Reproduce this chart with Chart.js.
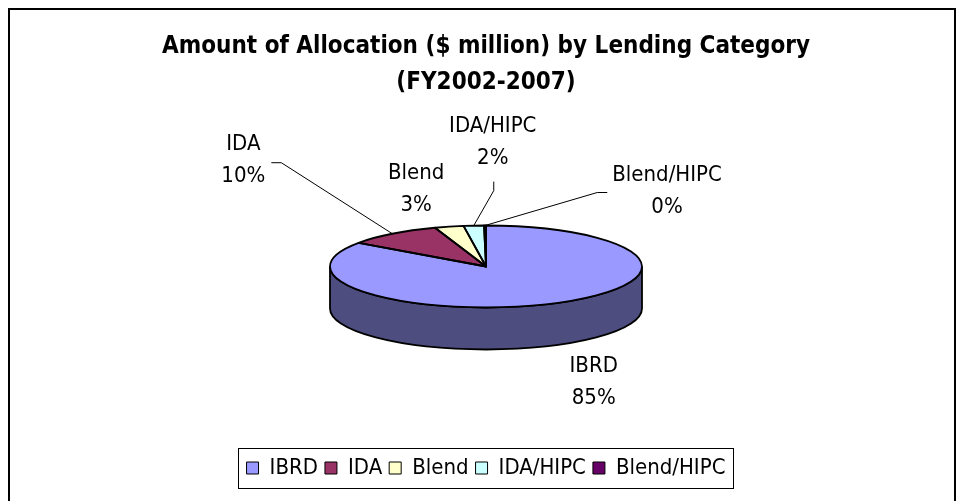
<!DOCTYPE html>
<html>
<head>
<meta charset="utf-8">
<script src="https://cdn.jsdelivr.net/npm/chart.js@4.4.1/dist/chart.umd.min.js"></script>
<style>
html, body { margin: 0; padding: 0; background: #fff; }
</style>
</head>
<body>
<canvas id="allocation_pie" width="960" height="501"></canvas>
<script>
const categories = ["IBRD", "IDA", "Blend", "IDA/HIPC", "Blend/HIPC"]
const allocation = [84.8, 9.9, 3.0, 2.1, 0.2]
const titleLines = ["Amount of Allocation ($ million) by Lending Category", "(FY2002-2007)"]

const topColors = ["#9999ff", "#993366", "#ffffcc", "#ccffff", "#660066"]
const sideColors = ["#4d4d80", "#4d1a33", "#808066", "#668080", "#330033"]
// label centre, offset from the rim point of its slice
const labelNudge = [[36, 79], [-149, -73], [-33, -37], [19, -83], [182, -34]]
const leaderSide = [null, "right", null, "below", "left"]

const narrow = "'DejaVu Sans Condensed', 'Arial Narrow', sans-serif"
const tilt = 41 / 156
const depth = 42

function geom(chart) {
    const a = chart.getDatasetMeta(0).data[0]
    const rx = a.outerRadius
    return { x0: a.x, y0: a.y, cx: a.x, cy: a.y - depth / 2, rx: rx, ry: rx * tilt }
}

// flatten the library's pie into an ellipse and give it a side wall
const pie3d = {
    id: "pie3d",
    beforeDatasetsDraw(chart) {
        const ctx = chart.ctx
        const g = geom(chart)
        const arcs = chart.getDatasetMeta(0).data
        ctx.save()
        arcs.forEach((a, i) => {
            const s = Math.max(a.startAngle, 0), e = Math.min(a.endAngle, Math.PI)
            if (e <= s) return
            ctx.beginPath()
            ctx.ellipse(g.cx, g.cy, g.rx, g.ry, 0, s, e)
            ctx.ellipse(g.cx, g.cy + depth, g.rx, g.ry, 0, e, s, true)
            ctx.closePath()
            ctx.fillStyle = sideColors[i]
            ctx.fill()
            ctx.lineWidth = 1.8
            ctx.strokeStyle = "#000"
            ctx.stroke()
        })
        ctx.translate(g.cx, g.cy)
        ctx.scale(1, tilt)
        ctx.translate(-g.x0, -g.y0)
    },
    afterDatasetsDraw(chart) {
        const ctx = chart.ctx
        ctx.restore()
        const g = geom(chart)
        const arcs = chart.getDatasetMeta(0).data
        const total = allocation.reduce((s, v) => s + v, 0)
        // slice outlines
        ctx.save()
        ctx.lineWidth = 1.8
        ctx.strokeStyle = "#000"
        ctx.lineJoin = "round"
        arcs.forEach(a => {
            ctx.beginPath()
            ctx.moveTo(g.cx, g.cy)
            ctx.ellipse(g.cx, g.cy, g.rx, g.ry, 0, a.startAngle, a.endAngle)
            ctx.closePath()
            ctx.stroke()
        })
        ctx.restore()
        // data labels
        ctx.save()
        ctx.font = "22px " + narrow
        ctx.fillStyle = "#000"
        ctx.strokeStyle = "#000"
        ctx.lineWidth = 1
        ctx.textAlign = "center"
        ctx.textBaseline = "middle"
        arcs.forEach((a, i) => {
            const m = (a.startAngle + a.endAngle) / 2
            const rimX = g.cx + g.rx * Math.cos(m)
            const rimY = g.cy + g.ry * Math.sin(m)
            const lx = rimX + labelNudge[i][0]
            const ly = rimY + labelNudge[i][1]
            const lines = [categories[i], Math.round(allocation[i] / total * 100) + "%"]
            ctx.fillText(lines[0], lx, ly - 16)
            ctx.fillText(lines[1], lx, ly + 16)
            const w = Math.max(...lines.map(t => ctx.measureText(t).width))
            let p = null
            if (leaderSide[i] === "right") p = [[lx + w / 2 + 6, ly + 2], [lx + w / 2 + 16, ly + 2]]
            if (leaderSide[i] === "left") p = [[lx - w / 2 - 5, ly + 1], [lx - w / 2 - 15, ly + 1]]
            if (leaderSide[i] === "below") p = [[lx + 1, ly + 39], [lx + 1, ly + 48]]
            if (p) {
                ctx.beginPath()
                ctx.moveTo(p[0][0], p[0][1])
                ctx.lineTo(p[1][0], p[1][1])
                ctx.lineTo(rimX, rimY)
                ctx.stroke()
            }
        })
        ctx.restore()
    }
}

// outer frame and box round the legend
const frames = {
    id: "frames",
    beforeDraw(chart) {
        const ctx = chart.ctx
        ctx.save()
        ctx.fillStyle = "#fff"
        ctx.fillRect(0, 0, chart.width, chart.height)
        ctx.strokeStyle = "#000"
        ctx.lineWidth = 2
        ctx.strokeRect(9, 9, 946, 520)
        ctx.restore()
    },
    afterDraw(chart) {
        const boxes = chart.legend.legendHitBoxes
        if (!boxes || !boxes.length) return
        const left = Math.min(...boxes.map(b => b.left)) - 9
        const right = Math.max(...boxes.map(b => b.left + b.width)) + 7
        const top = Math.min(...boxes.map(b => b.top)) - 9
        const bottom = Math.max(...boxes.map(b => b.top + b.height)) + 9
        const ctx = chart.ctx
        ctx.save()
        ctx.strokeStyle = "#000"
        ctx.lineWidth = 1
        ctx.strokeRect(Math.round(left) + 0.5, Math.round(top) + 0.5, Math.round(right - left), Math.round(bottom - top))
        ctx.restore()
    }
}

const ctx = document.getElementById("allocation_pie").getContext("2d")
new Chart(ctx, {
    type: "pie",
    data: {
        labels: categories,
        datasets: [
            {
                data: allocation,
                backgroundColor: topColors,
                borderWidth: 0,
                hoverOffset: 0,
                radius: 156
            }
        ]
    },
    options: {
        responsive: false,
        animation: false,
        events: [],
        layout: {
            padding: { left: 12, bottom: 12 }
        },
        plugins: {
            title: {
                display: true,
                text: titleLines,
                color: "#000",
                font: { family: narrow, size: 24, weight: "bold", lineHeight: 1.5 },
                padding: { top: 29, bottom: 24 }
            },
            legend: {
                position: "bottom",
                labels: {
                    color: "#000",
                    boxWidth: 12,
                    boxHeight: 12,
                    padding: 7,
                    font: { family: narrow, size: 22 },
                    generateLabels(chart) {
                        return Chart.overrides.pie.plugins.legend.labels.generateLabels(chart)
                            .map(l => ({ ...l, strokeStyle: "#000", lineWidth: 1 }))
                    }
                }
            },
            tooltip: { enabled: false }
        }
    },
    plugins: [frames, pie3d]
})
</script>
</body>
</html>
